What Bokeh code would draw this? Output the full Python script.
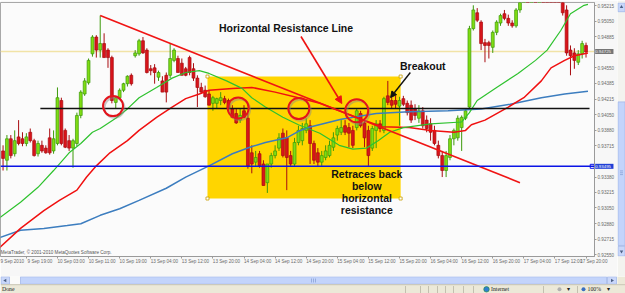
from bokeh.plotting import figure
from bokeh.models import (ColumnDataSource, FixedTicker, Range1d, Span, BoxAnnotation,
                          Label, Arrow, NormalHead, NumeralTickFormatter)
from bokeh.layouts import row, column
from bokeh.embed import file_html
from bokeh.resources import INLINE

# ---------------- data ----------------
bar_index = list(range(-6, 145))  # hourly bars, 0 = 9 Sep 19:00

bar_open = [
    0.9366, 0.9356, 0.9379, 0.9363, 0.9381, 0.9379, 0.9374, 0.9386, 0.9377, 0.9363,
    0.9372, 0.9369, 0.9380, 0.9366, 0.9374, 0.9420, 0.9388, 0.9377, 0.9369, 0.9374,
    0.9404, 0.9427, 0.9439, 0.9470, 0.9488, 0.9474, 0.9481, 0.9474, 0.9466, 0.9418,
    0.9423, 0.9431, 0.9438, 0.9447, 0.9468, 0.9470, 0.9484, 0.9474, 0.9454, 0.9455,
    0.9445, 0.9441, 0.9447, 0.9447, 0.9463, 0.9465, 0.9460, 0.9454, 0.9466, 0.9454,
    0.9444, 0.9434, 0.9431, 0.9427, 0.9417, 0.9417, 0.9420, 0.9422, 0.9420, 0.9411,
    0.9406, 0.9399, 0.9409, 0.9401, 0.9364, 0.9354, 0.9363, 0.9352, 0.9332, 0.9352,
    0.9361, 0.9369, 0.9385, 0.9380, 0.9361, 0.9352, 0.9375, 0.9377, 0.9388, 0.9393,
    0.9374, 0.9364, 0.9354, 0.9359, 0.9361, 0.9370, 0.9383, 0.9386, 0.9393, 0.9391,
    0.9388, 0.9391, 0.9406, 0.9396, 0.9388, 0.9369, 0.9388, 0.9395, 0.9388, 0.9425,
    0.9420, 0.9420, 0.9414, 0.9422, 0.9417, 0.9415, 0.9411, 0.9401, 0.9409, 0.9399,
    0.9395, 0.9388, 0.9372, 0.9361, 0.9345, 0.9359, 0.9379, 0.9380, 0.9391, 0.9401,
    0.9413, 0.9497, 0.9514, 0.9504, 0.9482, 0.9482, 0.9477, 0.9493, 0.9503, 0.9513,
    0.9508, 0.9503, 0.9500, 0.9517, 0.9533, 0.9545, 0.9540, 0.9555, 0.9550, 0.9560,
    0.9556, 0.9552, 0.9546, 0.9540, 0.9535, 0.9517, 0.9474, 0.9471, 0.9461, 0.9470,
    0.9479,
]
bar_high = [
    0.9372, 0.9383, 0.9383, 0.9388, 0.9399, 0.9386, 0.9385, 0.9390, 0.9379, 0.9377,
    0.9377, 0.9372, 0.9390, 0.9388, 0.9434, 0.9423, 0.9390, 0.9383, 0.9379, 0.9407,
    0.9431, 0.9444, 0.9465, 0.9490, 0.9490, 0.9511, 0.9492, 0.9476, 0.9468, 0.9425,
    0.9433, 0.9439, 0.9447, 0.9449, 0.9474, 0.9486, 0.9488, 0.9476, 0.9458, 0.9459,
    0.9452, 0.9446, 0.9450, 0.9481, 0.9476, 0.9468, 0.9465, 0.9456, 0.9468, 0.9460,
    0.9447, 0.9439, 0.9436, 0.9431, 0.9425, 0.9423, 0.9429, 0.9425, 0.9422, 0.9415,
    0.9411, 0.9411, 0.9415, 0.9407, 0.9372, 0.9366, 0.9366, 0.9356, 0.9350, 0.9364,
    0.9372, 0.9385, 0.9390, 0.9388, 0.9366, 0.9380, 0.9393, 0.9396, 0.9401, 0.9399,
    0.9377, 0.9369, 0.9366, 0.9372, 0.9377, 0.9386, 0.9393, 0.9399, 0.9399, 0.9396,
    0.9393, 0.9411, 0.9409, 0.9401, 0.9393, 0.9393, 0.9399, 0.9399, 0.9424, 0.9441,
    0.9425, 0.9425, 0.9424, 0.9425, 0.9420, 0.9420, 0.9416, 0.9415, 0.9413, 0.9404,
    0.9401, 0.9393, 0.9377, 0.9366, 0.9366, 0.9383, 0.9390, 0.9404, 0.9404, 0.9411,
    0.9500, 0.9522, 0.9519, 0.9506, 0.9486, 0.9484, 0.9495, 0.9506, 0.9513, 0.9517,
    0.9512, 0.9506, 0.9519, 0.9538, 0.9549, 0.9556, 0.9560, 0.9568, 0.9565, 0.9572,
    0.9570, 0.9562, 0.9555, 0.9548, 0.9540, 0.9522, 0.9479, 0.9476, 0.9474, 0.9484,
    0.9482,
]
bar_low = [
    0.9345, 0.9345, 0.9358, 0.9360, 0.9372, 0.9371, 0.9371, 0.9375, 0.9360, 0.9360,
    0.9364, 0.9363, 0.9362, 0.9363, 0.9372, 0.9372, 0.9369, 0.9366, 0.9348, 0.9371,
    0.9401, 0.9425, 0.9437, 0.9467, 0.9466, 0.9466, 0.9466, 0.9455, 0.9417, 0.9411,
    0.9421, 0.9429, 0.9435, 0.9436, 0.9466, 0.9468, 0.9470, 0.9449, 0.9447, 0.9438,
    0.9441, 0.9429, 0.9418, 0.9444, 0.9461, 0.9450, 0.9447, 0.9446, 0.9447, 0.9441,
    0.9413, 0.9427, 0.9423, 0.9415, 0.9409, 0.9411, 0.9415, 0.9416, 0.9409, 0.9401,
    0.9395, 0.9396, 0.9401, 0.9347, 0.9342, 0.9350, 0.9348, 0.9329, 0.9321, 0.9348,
    0.9358, 0.9366, 0.9359, 0.9324, 0.9350, 0.9349, 0.9372, 0.9372, 0.9385, 0.9352,
    0.9352, 0.9350, 0.9350, 0.9356, 0.9359, 0.9366, 0.9377, 0.9383, 0.9383, 0.9370,
    0.9369, 0.9388, 0.9391, 0.9370, 0.9350, 0.9366, 0.9369, 0.9386, 0.9385, 0.9415,
    0.9411, 0.9411, 0.9393, 0.9414, 0.9404, 0.9396, 0.9399, 0.9396, 0.9390, 0.9386,
    0.9377, 0.9372, 0.9358, 0.9338, 0.9338, 0.9356, 0.9372, 0.9377, 0.9366, 0.9399,
    0.9411, 0.9495, 0.9504, 0.9474, 0.9461, 0.9465, 0.9471, 0.9490, 0.9500, 0.9506,
    0.9500, 0.9498, 0.9498, 0.9514, 0.9530, 0.9536, 0.9538, 0.9545, 0.9542, 0.9550,
    0.9548, 0.9540, 0.9536, 0.9530, 0.9511, 0.9468, 0.9447, 0.9454, 0.9458, 0.9465,
    0.9466,
]
bar_close = [
    0.9358, 0.9379, 0.9361, 0.9377, 0.9374, 0.9374, 0.9381, 0.9377, 0.9361, 0.9374,
    0.9366, 0.9364, 0.9364, 0.9379, 0.9423, 0.9374, 0.9370, 0.9369, 0.9377, 0.9404,
    0.9429, 0.9441, 0.9463, 0.9488, 0.9474, 0.9481, 0.9466, 0.9466, 0.9420, 0.9423,
    0.9431, 0.9438, 0.9446, 0.9438, 0.9471, 0.9484, 0.9471, 0.9450, 0.9452, 0.9450,
    0.9450, 0.9429, 0.9429, 0.9465, 0.9474, 0.9450, 0.9447, 0.9447, 0.9450, 0.9444,
    0.9434, 0.9429, 0.9424, 0.9415, 0.9423, 0.9422, 0.9423, 0.9418, 0.9411, 0.9402,
    0.9396, 0.9404, 0.9402, 0.9350, 0.9352, 0.9359, 0.9350, 0.9329, 0.9352, 0.9361,
    0.9366, 0.9380, 0.9361, 0.9359, 0.9352, 0.9375, 0.9388, 0.9390, 0.9395, 0.9374,
    0.9356, 0.9354, 0.9361, 0.9366, 0.9372, 0.9380, 0.9390, 0.9391, 0.9386, 0.9385,
    0.9372, 0.9409, 0.9393, 0.9380, 0.9361, 0.9390, 0.9395, 0.9390, 0.9422, 0.9418,
    0.9415, 0.9416, 0.9420, 0.9416, 0.9407, 0.9399, 0.9404, 0.9409, 0.9393, 0.9390,
    0.9386, 0.9374, 0.9361, 0.9345, 0.9361, 0.9379, 0.9388, 0.9401, 0.9402, 0.9409,
    0.9497, 0.9517, 0.9506, 0.9481, 0.9479, 0.9479, 0.9493, 0.9504, 0.9511, 0.9508,
    0.9503, 0.9500, 0.9517, 0.9533, 0.9545, 0.9540, 0.9555, 0.9550, 0.9560, 0.9556,
    0.9552, 0.9546, 0.9540, 0.9535, 0.9514, 0.9471, 0.9468, 0.9463, 0.9470, 0.9481,
    0.9472,
]

# moving averages (bar index, price)
ma_fast_index = [-7, -1.5, 3, 7, 11, 14, 17, 19, 23, 26, 29, 33.5, 37.5, 41, 44.5, 47, 51.5,
                 55.5, 58, 61.5, 66, 70, 75.5, 80.5, 84, 87.5, 90.5, 93.5, 97, 104, 112, 114,
                 116, 121, 126.5, 131, 134, 137.5, 140, 143.5, 144.5]
ma_fast = [0.9294, 0.9311, 0.9327, 0.9345, 0.9364, 0.9374, 0.9386, 0.9390, 0.9401, 0.9411,
           0.9423, 0.9434, 0.9444, 0.9450, 0.9452, 0.9449, 0.9441, 0.9433, 0.9423, 0.9413,
           0.9402, 0.9394, 0.9385, 0.9372, 0.9368, 0.9369, 0.9377, 0.9386, 0.9391, 0.9395,
           0.9397, 0.9407, 0.9420, 0.9434, 0.9449, 0.9463, 0.9474, 0.9495, 0.9513, 0.9522,
           0.9523]
ma_mid_index = [-7, -1.5, 4.5, 8.5, 13, 15.5, 18, 21.5, 26, 29, 33.5, 37.5, 41, 44.5, 47, 53,
                58, 64, 70, 75.5, 80.5, 85.5, 91.5, 98.5, 104, 110, 113, 114.5, 118, 124, 128,
                132.5, 135, 138.5, 141, 144.5]
ma_mid = [0.9262, 0.9283, 0.9302, 0.9313, 0.9324, 0.9338, 0.9350, 0.9364, 0.9377, 0.9388,
          0.9402, 0.9413, 0.9422, 0.9427, 0.9431, 0.9433, 0.9434, 0.9429, 0.9423, 0.9417,
          0.9409, 0.9401, 0.9392, 0.9391, 0.9388, 0.9386, 0.9388, 0.9394, 0.9399, 0.9413,
          0.9423, 0.9441, 0.9455, 0.9463, 0.9468, 0.9471]
ma_slow_index = [-7, -1.5, 4.5, 10.5, 14, 19, 24, 29, 36, 41, 47, 53, 57.5, 61.5, 67, 70,
                 72.5, 81, 90, 98.5, 108.5, 117, 124.5, 132.5, 138.5, 144.5]
ma_slow = [0.9273, 0.9281, 0.9283, 0.9286, 0.9288, 0.9297, 0.9304, 0.9313, 0.9326, 0.9338,
           0.9350, 0.9363, 0.9370, 0.9375, 0.9380, 0.9387, 0.9391, 0.9400, 0.9406, 0.9408,
           0.9409, 0.9411, 0.9416, 0.9423, 0.9427, 0.9430]

price_ticks = [0.95215, 0.95050, 0.94885, 0.94550, 0.94385, 0.94215, 0.94050, 0.93880,
               0.93715, 0.93380, 0.93215, 0.93050, 0.92880, 0.92715, 0.92550]
time_tick_index = [0, 8, 16, 24, 32, 40, 48, 56, 64, 72, 80, 88, 96, 104, 112, 120, 128, 136, 144]
time_label_index = [-6.25, 3.5, 11.5, 19.5, 27.5, 35.5, 43.5, 51.5, 59.5, 67.5, 75.5, 83.5,
                    91.5, 99.5, 107.5, 115.5, 123.5, 131.5, 139.5, 146.0]
time_labels = ["9 Sep 2010", "9 Sep 19:00", "10 Sep 03:00", "10 Sep 11:00", "10 Sep 19:00",
               "13 Sep 04:00", "13 Sep 12:00", "13 Sep 20:00", "14 Sep 04:00", "14 Sep 12:00",
               "14 Sep 20:00", "15 Sep 04:00", "15 Sep 12:00", "15 Sep 20:00", "16 Sep 04:00",
               "16 Sep 12:00", "16 Sep 20:00", "17 Sep 04:00", "17 Sep 12:00", "17 Sep 20:00"]

resistance_price = 0.94114
resistance_span = [3.6, 144.9]
support_price = 0.93495
last_price = 0.94725
trend_index = [19, 127]
trend_price = [0.9511, 0.9332]
box_index = [46.6, 96.3]
box_price = [0.93150, 0.94457]
touch_index = [22.3, 54.5, 70.1, 85.0]
touch_price = [0.9414, 0.9412, 0.94114, 0.9409]

# ---------------- main chart ----------------
FONT = "Liberation Sans"
MAIN_H = 276
p = figure(width=617, height=MAIN_H, x_range=Range1d(-6.656, 146.18),
           y_range=Range1d(0.92529, 0.95250), output_backend="svg", toolbar_location=None,
           x_axis_location="below", y_axis_location="right",
           min_border_left=0, min_border_top=2, min_border_bottom=MAIN_H - 256,
           min_border_right=20)
p.background_fill_color = "#fbfbfb"
p.border_fill_color = "#f7f7f7"
p.outline_line_color = "#a8a8a8"
p.grid.visible = False

p.yaxis.ticker = FixedTicker(ticks=price_ticks)
p.yaxis.formatter = NumeralTickFormatter(format="0.00000")
p.xaxis.ticker = FixedTicker(ticks=time_label_index, minor_ticks=time_tick_index)
p.xaxis.major_label_overrides = dict(zip(time_label_index, time_labels))
for ax in (p.xaxis[0], p.yaxis[0]):
    ax.major_label_text_font = FONT
    ax.major_label_text_font_size = "4.6px"
    ax.major_label_text_color = "#6a6a6a"
    ax.axis_line_color = "#9a9a9a"
    ax.major_label_standoff = 1
    ax.minor_tick_in = 0
    ax.major_tick_in = 0
    ax.major_tick_line_color = "#9a9a9a"
    ax.minor_tick_line_color = "#9a9a9a"
p.yaxis.major_tick_out = 2
p.yaxis.minor_tick_out = 0
p.xaxis.major_tick_out = 0
p.xaxis.minor_tick_out = 2
p.xaxis.major_label_standoff = 0

p.add_layout(BoxAnnotation(left=box_index[0], right=box_index[1], bottom=box_price[0],
                           top=box_price[1], fill_color="#ffd500", fill_alpha=1.0,
                           line_color=None, level="underlay"))
p.add_layout(Span(location=last_price, dimension="width", line_color="#f1e3a6",
                  line_width=1.5, level="underlay"))

up = [c >= o for o, c in zip(bar_open, bar_close)]
src = ColumnDataSource(dict(
    x=bar_index, high=bar_high, low=bar_low,
    top=[max(o, c) for o, c in zip(bar_open, bar_close)],
    bottom=[min(o, c) for o, c in zip(bar_open, bar_close)],
    fill=["#7fdc12" if u else "#d8141a" for u in up],
    edge=["#3c9a0a" if u else "#a80c10" for u in up],
))
p.segment(x0="x", y0="high", x1="x", y1="low", line_color="edge", line_width=1, source=src)
p.vbar(x="x", width=0.74, top="top", bottom="bottom", fill_color="fill", line_color="edge",
       line_width=0.7, source=src)

p.line(ma_slow_index, ma_slow, line_color="#3c7dbf", line_width=1.5)
p.line(ma_mid_index, ma_mid, line_color="#f01010", line_width=1.5)
p.line(ma_fast_index, ma_fast, line_color="#2ec22e", line_width=1.2)

p.add_layout(Span(location=support_price, dimension="width", line_color="#0a14e6", line_width=1.5))
p.line(resistance_span, [resistance_price, resistance_price], line_color="#111111", line_width=1.6)
p.line(trend_index, trend_price, line_color="#f01414", line_width=1.6)

p.scatter([145.6], [support_price], marker="square", size=4, fill_color="#ffffff",
          line_color="#0a14e6", line_width=1)
p.scatter([box_index[0], box_index[1], box_index[0], box_index[1]],
          [box_price[0], box_price[0], box_price[1], box_price[1]], marker="square", size=3,
          fill_color="#ffffff", line_color="#c8a000", line_width=0.8)

# touch circles with soft shadow
p.scatter([x + 0.35 for x in touch_index], [y - 0.00018 for y in touch_price], marker="circle",
          size=[20, 21, 21, 23], fill_color=None, line_color="#888888", line_alpha=0.45,
          line_width=2)
p.scatter(touch_index, touch_price, marker="circle", size=[20, 21, 21, 23], fill_color=None,
          line_color="#e3141c", line_width=2)

p.add_layout(Arrow(x_start=70.66, y_start=0.94886, x_end=81.16, y_end=0.94168,
                   line_color="#ee1111", line_width=1.6,
                   end=NormalHead(size=7, fill_color="#ee1111", line_color="#ee1111")))
p.add_layout(Arrow(x_start=98.8, y_start=0.94500, x_end=93.7, y_end=0.94232,
                   line_color="#111111", line_width=1.4,
                   end=NormalHead(size=6, fill_color="#111111", line_color="#111111")))

def note(x, y, text):
    p.add_layout(Label(x=x, y=y, text=text, text_font=FONT, text_font_style="bold",
                       text_font_size="10.5px", text_color="#111111", text_align="center",
                       text_baseline="middle"))

note(66.8, 0.94972, "Horizontal Resistance Line")
note(102.0, 0.94565, "Breakout")
note(87.6, 0.93418, "Retraces back")
note(87.6, 0.93289, "below")
note(87.6, 0.93161, "horizontal")
note(87.6, 0.93032, "resistance")

p.add_layout(Label(x=-6.58, y=0.92571, text="MetaTrader, \u00a9 2001-2010 MetaQuotes Software Corp.",
                   text_font=FONT, text_font_size="4.6px", text_color="#555555",
                   text_baseline="middle"))
# highlighted price tags over the price scale; kept in the lower side panel so they are not
# clipped to the frame (they are still placed by data coordinates)
for price, bg, fg in ((last_price, "#767676", "#f0f0f0"), (support_price, "#1f3fd6", "#ffffff")):
    p.add_layout(Label(x=146.35, y=price, text=" %.5f " % price, text_font=FONT,
                       text_font_size="4.4px", text_color=fg, text_baseline="middle",
                       background_fill_color=bg), "below")

# ---------------- window chrome ----------------
vs = figure(width=8, height=MAIN_H, x_range=Range1d(0, 8), y_range=Range1d(MAIN_H, 0),
            output_backend="svg", toolbar_location=None, x_axis_location=None,
            y_axis_location=None, min_border=0)
vs.grid.visible = False
vs.outline_line_color = None
vs.background_fill_color = "#f3f3ef"
vs.border_fill_color = "#f3f3ef"
vs.quad(left=[0.5, 0.5, 0.5], right=[7.5, 7.5, 7.5], top=[0.5, 108, 265],
        bottom=[10, 264, MAIN_H - 0.5],
        fill_color=["#c9d7fa", "#c3d4fb", "#c9d7fa"], line_color="#a3b9ea", line_width=0.8)
vs.segment(x0=[2.5, 2.5, 2.5], y0=[183, 185, 187], x1=[5.5, 5.5, 5.5], y1=[183, 185, 187],
           line_color="#8aa3d8", line_width=0.8)
vs.scatter([4, 4], [5, 270.5], marker=["triangle", "inverted_triangle"], size=3.5,
           fill_color="#4d6185", line_color=None)

bc = figure(width=625, height=293 - MAIN_H, x_range=Range1d(0, 625), y_range=Range1d(293, MAIN_H),
            output_backend="svg", toolbar_location=None, x_axis_location=None,
            y_axis_location=None, min_border=0)
bc.grid.visible = False
bc.outline_line_color = None
bc.background_fill_color = "#f7f7f5"
bc.border_fill_color = "#f7f7f5"
bc.quad(left=[0, 0.5, 20, 607, 617], right=[625, 9, 606, 616, 625],
        top=[276, 276.3, 276.3, 276.3, 276], bottom=[284, 283.7, 283.7, 283.7, 284],
        fill_color=["#fbfbf9", "#c9d7fa", "#c3d4fb", "#c9d7fa", "#ece9d8"],
        line_color=[None, "#a3b9ea", "#a3b9ea", "#a3b9ea", None], line_width=0.8)
bc.segment(x0=[311, 313, 315], y0=[278, 278, 278], x1=[311, 313, 315], y1=[282, 282, 282],
           line_color="#8aa3d8", line_width=0.8)
bc.scatter([4.8, 611.5], [280, 280], marker="triangle", angle=[1.5708, -1.5708], size=3.5,
           fill_color="#4d6185", line_color=None)
bc.quad(left=[0], right=[625], top=[284.2], bottom=[293], fill_color="#ece9d8", line_color=None)
bc.segment(x0=[0], y0=[284.2], x1=[625], y1=[284.2], line_color="#c9c5b3", line_width=1)
sep_x = [405, 420, 428, 437, 445, 453, 463, 473, 543, 577]
bc.segment(x0=sep_x, y0=[285.5] * len(sep_x), x1=sep_x, y1=[292.5] * len(sep_x),
           line_color="#b9b5a4", line_width=0.8)
bc.scatter([486, 559, 583], [288.8, 288.8, 288.8], marker="circle", size=[5.5, 4, 4],
           fill_color=["#2f7fd0", "#b0b0b0", "#3a6fc0"], line_color=["#1f8a3a", None, None],
           line_width=0.6)
bc.text(x=[1.5, 490.5, 587, 566, 606], y=[288.8] * 5,
        text=["Done", "Internet", "100%", "\u25be", "\u25be"], text_font=FONT,
        text_font_size="5.8px", text_color="#222222", text_baseline="middle")

layout = column(row(p, vs), bc)
open("out.html", "w").write(file_html(layout, INLINE))
